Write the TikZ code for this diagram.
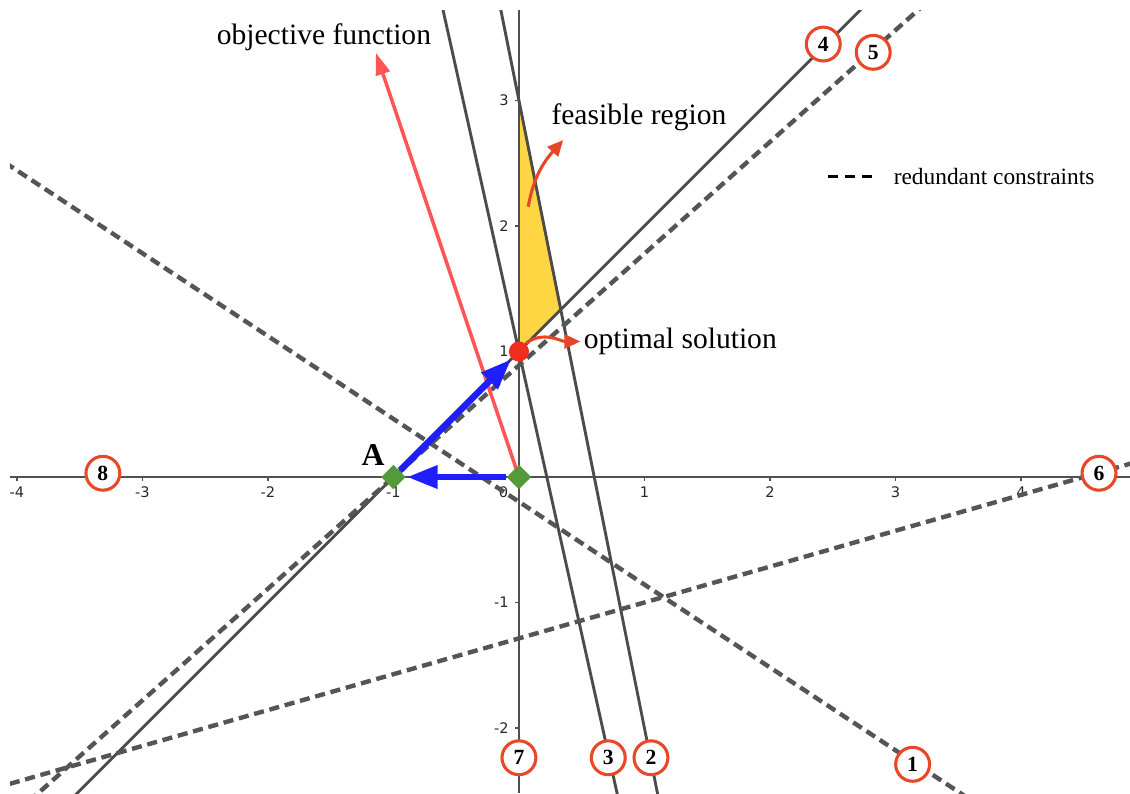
\documentclass[tikz,border=0pt]{standalone}
\usepackage{fontspec}
\setmainfont{Liberation Serif}
\newfontfamily\ticksfont{DejaVu Sans}
\usetikzlibrary{arrows.meta,shapes.geometric}
\definecolor{ptgreen}{RGB}{83,155,58}
\definecolor{moveblue}{RGB}{30,30,255}
\definecolor{objred}{RGB}{255,85,85}
\definecolor{dotred}{RGB}{240,45,30}
\definecolor{circred}{RGB}{232,72,40}
\definecolor{annotred}{RGB}{230,70,40}
\definecolor{feasfill}{RGB}{254,214,68}
\definecolor{linegray}{RGB}{75,75,75}
\definecolor{dashgray}{RGB}{85,85,85}
\definecolor{axisgray}{RGB}{80,80,80}
\definecolor{ticktext}{RGB}{40,40,40}
\begin{document}
\begin{tikzpicture}[x=1cm,y=1cm,
  constraint/.style={draw=linegray, line width=0.65pt},
  redundant/.style={draw=dashgray, line width=1pt, dash pattern=on 2.3pt off 1.3pt},
  axisline/.style={draw=axisgray, line width=0.45pt},
  circlabel/.style={circle, draw=circred, line width=0.7pt, fill=white, minimum size=0.27cm, inner sep=0pt, font=\bfseries\fontsize{4.9}{5}\selectfont},
  ticklbl/.style={font=\ticksfont\fontsize{3.3}{3.5}\selectfont, text=ticktext, inner sep=0pt},
  annot/.style={draw=annotred, line width=0.7pt, -{Triangle[length=3.6pt,width=3.2pt]}},
  lbl/.style={font=\fontsize{6.7}{8}\selectfont, inner sep=0pt},
  corner/.style={diamond, fill=ptgreen, minimum width=0.2cm, minimum height=0.2cm, inner sep=0pt},
  movearrow/.style={draw=moveblue, line width=1.5pt, -{Triangle[length=7pt,width=5pt]}},
  objarrow/.style={draw=objred, line width=0.8pt, -{Triangle[length=5pt,width=3.2pt]}}
]
\useasboundingbox (-4.135,-2.518) rectangle (4.869,3.801);
% key points
\coordinate (O) at (0,0);
\coordinate (Ap) at (-1,0);
\coordinate (P) at (0,1);
\coordinate (F1) at (0,3);
\coordinate (F2) at (1/3,4/3);
% feasible region
\fill[feasfill, draw=linegray, line width=0.4pt] (F1) -- (P) -- (F2) -- cycle;
\begin{scope}
\clip (-4.056,-2.518) rectangle (4.869,3.721);
% axes
\coordinate (xl) at (-4.056,0); \coordinate (xr) at (4.869,0);
\coordinate (yb) at (0,-2.518); \coordinate (yt) at (0,3.721);
\draw[axisline, line width=0.55pt] (xl) -- (xr);
\draw[axisline, line width=0.45pt] (yb) -- (yt);
\foreach \i in {-4,-3,-2,-1,1,2,3,4} {
  \draw[axisline, line width=0.3pt] (\i,0) -- (\i,-0.03);
  \node[ticklbl, anchor=north] (tx\i) at (\i,-0.07) {\i};
}
\foreach \j in {-2,-1,1,2,3} {
  \draw[axisline, line width=0.3pt] (0,\j) -- (-0.03,\j);
  \node[ticklbl, anchor=east] (ty\j) at (-0.075,\j) {\j};
}
\node[ticklbl, anchor=north east] (t0) at (-0.08,-0.07) {0};
% constraint lines
\coordinate (l1a) at (-4.2,2.575); \coordinate (l1b) at (3.7,-2.639);
\coordinate (l2a) at (-0.2,4); \coordinate (l2b) at (1.15,-2.75);
\coordinate (l3a) at (-0.7,4.15); \coordinate (l3b) at (0.8,-2.6);
\coordinate (l4a) at (-3.7,-2.7); \coordinate (l4b) at (3,4);
\coordinate (l5a) at (-4,-2.67); \coordinate (l5b) at (3.5,4.005);
\coordinate (l6a) at (-4.3,-2.514); \coordinate (l6b) at (5,0.143);
\draw[redundant] (l1a) -- (l1b);
\draw[constraint] (l2a) -- (l2b);
\draw[constraint] (l3a) -- (l3b);
\draw[constraint] (l4a) -- (l4b);
\draw[redundant] (l5a) -- (l5b);
\draw[redundant] (l6a) -- (l6b);
\end{scope}
% objective function arrow
\coordinate (objtip) at (-1.14,3.38);
\draw[objarrow] (O) -- (objtip);
% points
\node[corner] (Odia) at (O) {};
\node[corner] (Adia) at (Ap) {};
\node[circle, fill=dotred, minimum size=0.16cm, inner sep=0pt] (optdot) at (P) {};
% movement arrows
\draw[movearrow] (Odia) -- (Adia);
\draw[movearrow] (Adia) -- (optdot);
% labels
\node[lbl, anchor=center] (objlabel) at (-1.554,3.506) {objective function};
\node[lbl, anchor=center] (feaslabel) at (0.956,2.869) {feasible region};
\node[lbl, anchor=west] (optlabel) at (0.51,1.08) {optimal solution};
\node[font=\bfseries\fontsize{7.2}{8}\selectfont, inner sep=0pt] (Alabel) at (-1.163,0.175) {A};
% annotation arrows
\coordinate (feasstart) at (0.074,2.154);
\coordinate (feastip) at (0.353,2.685);
\draw[annot] (feasstart) to[out=80,in=228] (feastip);
\draw[annot, shorten >=0.6pt] (optdot.50) to[out=35,in=180] (optlabel.west);
% legend
\coordinate (lg1) at (2.462,2.393); \coordinate (lg2) at (2.813,2.393);
\draw[black, line width=0.7pt, dash pattern=on 2.3pt off 1.6pt] (lg1) -- (lg2);
\node[font=\fontsize{5.3}{6}\selectfont, inner sep=0pt, anchor=west] (legend) at (2.98,2.393) {redundant constraints};
% constraint numbers
\node[circlabel] (c1) at (3.137,-2.289) {1};
\node[circlabel] (c2) at (1.052,-2.237) {2};
\node[circlabel] (c3) at (0.712,-2.237) {3};
\node[circlabel] (c4) at (2.425,3.45) {4};
\node[circlabel] (c5) at (2.823,3.384) {5};
\node[circlabel] (c6) at (4.622,0.03) {6};
\node[circlabel] (c7) at (0,-2.237) {7};
\node[circlabel] (c8) at (-3.315,0.03) {8};
\end{tikzpicture}
\end{document}
